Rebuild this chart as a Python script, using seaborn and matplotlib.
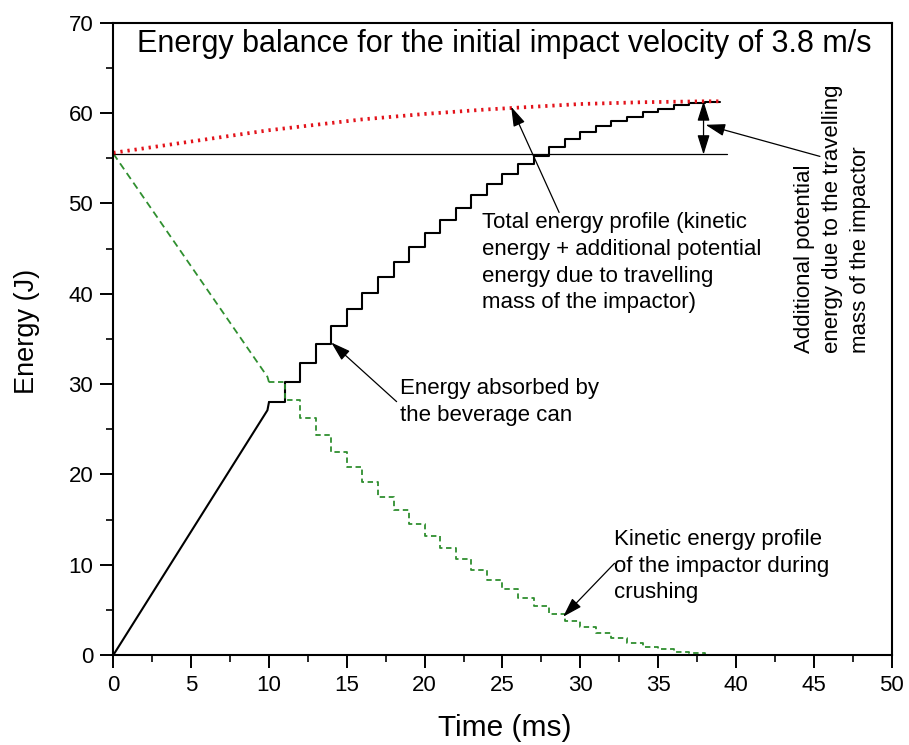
import matplotlib
matplotlib.use("Agg")
import matplotlib.pyplot as plt
import seaborn as sns
from matplotlib.ticker import MultipleLocator

# linear part before the first fold (ms, J)
ramp_time = [0.0, 9.9, 10.0]
absorbed_ramp = [0.0, 27.1, 28.0]
kinetic_ramp = [55.5, 30.8, 30.2]

# stepped part: one level per 1 ms interval, starting at step_time[i]
step_time = [10, 11, 12, 13, 14, 15, 16, 17, 18, 19, 20, 21, 22, 23, 24,
             25, 26, 27, 28, 29, 30, 31, 32, 33, 34, 35, 36, 37, 38]
end_time = 39
absorbed_steps = [28.0, 30.2, 32.3, 34.4, 36.4, 38.3, 40.1, 41.8, 43.5, 45.2,
                  46.7, 48.2, 49.5, 50.9, 52.1, 53.2, 54.4, 55.2, 56.2, 57.1,
                  57.9, 58.6, 59.1, 59.6, 60.1, 60.5, 60.9, 61.1, 61.25]
kinetic_steps = [30.2, 28.2, 26.2, 24.4, 22.5, 20.85, 19.2, 17.5, 16.05, 14.5,
                 13.2, 11.8, 10.6, 9.4, 8.3, 7.3, 6.3, 5.4, 4.5, 3.8,
                 3.1, 2.4, 1.85, 1.36, 0.92, 0.63, 0.37, 0.19, 0.05]

# total energy (kinetic + extra potential energy of the travelling impactor)
total_time = [0, 2, 4, 6, 8, 10, 12, 14, 16, 18, 20, 22, 24, 26, 28, 30,
              32, 34, 36, 38, 39]
total_energy = [55.6, 56.1, 56.6, 57.1, 57.6, 58.1, 58.5, 58.9, 59.3, 59.6,
                59.9, 60.15, 60.4, 60.6, 60.8, 61.0, 61.1, 61.2, 61.25, 61.3,
                61.3]

initial_energy = 55.5
initial_line_end = 39.4

sns.set_theme(style="ticks")
plt.rcParams["font.family"] = ["Liberation Sans", "DejaVu Sans"]
plt.rcParams["text.color"] = "black"
plt.rcParams["axes.labelcolor"] = "black"

fig = plt.figure(figsize=(9.09, 7.45), dpi=100)
ax = fig.add_axes([0.1247, 0.1208, 0.8561, 0.8487])

green = "#2f8f2f"
red = "#e3131b"

# energy absorbed by the can
sns.lineplot(x=ramp_time, y=absorbed_ramp, ax=ax, color="black", lw=1.5,
             estimator=None)
sns.lineplot(x=step_time + [end_time], y=absorbed_steps + [absorbed_steps[-1]],
             ax=ax, color="black", lw=1.5, estimator=None, drawstyle="steps-post")

# kinetic energy of the impactor
sns.lineplot(x=ramp_time, y=kinetic_ramp, ax=ax, color=green, lw=1.3,
             estimator=None, linestyle=(0, (4, 2.5)))
sns.lineplot(x=step_time + [end_time], y=kinetic_steps + [kinetic_steps[-1]],
             ax=ax, color=green, lw=1.3, estimator=None, drawstyle="steps-post",
             linestyle=(0, (3, 2)))

# initial kinetic energy level
sns.lineplot(x=[0, initial_line_end], y=[initial_energy, initial_energy], ax=ax,
             color="black", lw=0.9, estimator=None)

# total energy
sns.lineplot(x=total_time, y=total_energy, ax=ax, color=red, lw=2.7,
             estimator=None, linestyle=(0, (0.6, 1.3)))

ax.set_xlim(0, 50)
ax.set_ylim(0, 70)
ax.xaxis.set_major_locator(MultipleLocator(5))
ax.xaxis.set_minor_locator(MultipleLocator(2.5))
ax.yaxis.set_major_locator(MultipleLocator(10))
ax.yaxis.set_minor_locator(MultipleLocator(5))
ax.tick_params(which="major", direction="out", length=9.5, width=1.4,
               labelsize=16, pad=5, colors="black")
ax.tick_params(which="minor", direction="out", length=5, width=1.4)
for side in ["left", "right", "top", "bottom"]:
    ax.spines[side].set_linewidth(1.5)
    ax.spines[side].set_color("black")

ax.set_xlabel("Time (ms)", fontsize=21.5)
ax.set_ylabel("Energy (J)", fontsize=19.5)
ax.xaxis.set_label_coords(0.503, -0.093)
ax.yaxis.set_label_coords(-0.094, 0.512)

ax.text(25.1, 66.8, "Energy balance for the initial impact velocity of 3.8 m/s",
        fontsize=22, ha="center", va="baseline")

# va="baseline" lines up the last line of each note
txt = dict(fontsize=16, ha="left", va="baseline", linespacing=1.35)
ax.text(23.7, 38.4, "Total energy profile (kinetic\nenergy + additional potential\n"
        "energy due to travelling\nmass of the impactor)", **txt)
ax.text(18.42, 25.95, "Energy absorbed by\nthe beverage can", **txt)
ax.text(32.15, 6.27, "Kinetic energy profile\nof the impactor during\ncrushing", **txt)
ax.text(46.2, 33.4, "Additional potential\nenergy due to the travelling\nmass of the impactor",
        fontsize=16, rotation=90, ha="center", va="bottom",
        multialignment="left", linespacing=1.42)

arrow = dict(arrowstyle="-|>,head_length=0.8,head_width=0.25", color="black",
             lw=0.9, mutation_scale=15, shrinkA=0, shrinkB=0)
ax.annotate("", xy=(25.56, 60.7), xytext=(28.64, 49.0), arrowprops=arrow)
ax.annotate("", xy=(14.0, 34.6), xytext=(18.2, 28.05), arrowprops=arrow)
ax.annotate("", xy=(28.9, 4.24), xytext=(32.2, 10.15), arrowprops=arrow)
ax.annotate("", xy=(38.05, 58.7), xytext=(45.4, 55.2), arrowprops=arrow)
double = dict(arrow, arrowstyle="<|-|>,head_length=0.8,head_width=0.25")
ax.annotate("", xy=(37.92, 61.3), xytext=(37.92, 55.4), arrowprops=double)

fig.savefig("out.png", dpi=100)
